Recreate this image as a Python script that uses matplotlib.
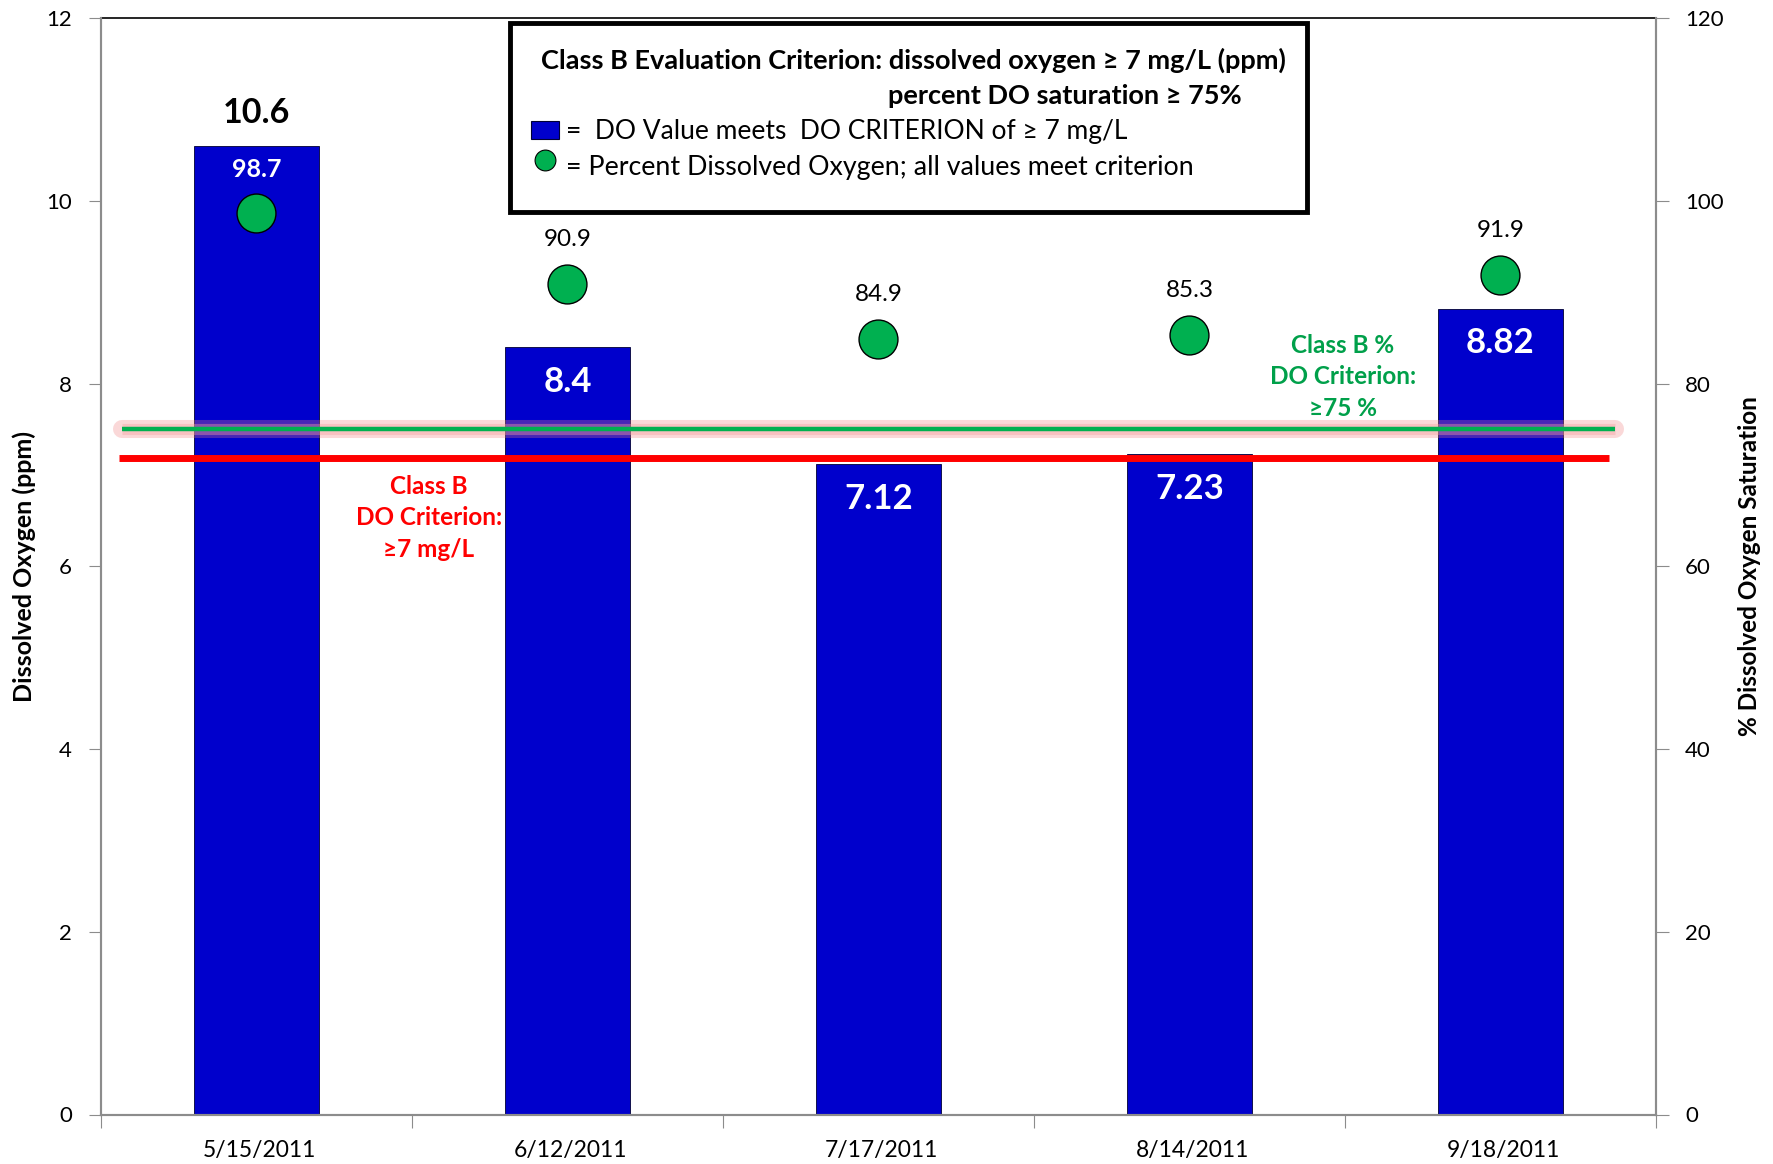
import matplotlib
matplotlib.use("Agg")
import matplotlib.pyplot as plt
from matplotlib.patches import Rectangle
from matplotlib.lines import Line2D

plt.rcParams['font.family'] = ['Lato', 'DejaVu Sans']

dates = ["5/15/2011", "6/12/2011", "7/17/2011", "8/14/2011", "9/18/2011"]
do_values = [10.6, 8.4, 7.12, 7.23, 8.82]
pct_sat = [98.7, 90.9, 84.9, 85.3, 91.9]
do_labels = ["10.6", "8.4", "7.12", "7.23", "8.82"]
pct_labels = ["98.7", "90.9", "84.9", "85.3", "91.9"]
do_criterion_line = 7.18
pct_criterion = 75
left_ticks = [0, 2, 4, 6, 8, 10, 12]
right_ticks = [0, 20, 40, 60, 80, 100, 120]

BAR = "#0000CC"
DOT = "#00B050"
RED = "#FF0000"
GREEN_TXT = "#00A04A"
GRAY = "#8C8C8C"

fig = plt.figure(figsize=(17.74, 11.64), dpi=100)
ax = fig.add_axes([101/1774, 1-1114.5/1164, (1656-101)/1774, (1114.5-18)/1164])
x = list(range(len(dates)))

ax.bar(x, do_values, width=0.4, color=BAR, edgecolor="#000033", linewidth=0.6, zorder=2)
ax.set_xlim(-0.5, 4.5)
ax.set_ylim(0, 12)
ax.set_yticks(left_ticks)
ax.set_yticklabels([str(t) for t in left_ticks], fontsize=16)
ax.set_xticks([i - 0.5 for i in range(len(dates) + 1)])
ax.set_xticklabels([])
ax.set_xticks([i + 0.01 for i in x], minor=True)
ax.set_xticklabels(dates, minor=True, fontsize=16.5)
ax.tick_params(axis='x', which='major', length=9, color=GRAY, direction='out')
ax.tick_params(axis='x', which='minor', length=0, pad=18)
ax.tick_params(axis='y', length=9, color=GRAY, direction='out', pad=12)
for s in ['left', 'bottom', 'right']:
    ax.spines[s].set_color(GRAY)
    ax.spines[s].set_linewidth(1.5)
ax.spines['top'].set_color('black')
ax.spines['top'].set_linewidth(1.2)
ax.set_ylabel("Dissolved Oxygen (ppm)", fontsize=18, fontweight='bold', labelpad=7)

# DO labels
for i, (v, lab) in enumerate(zip(do_values, do_labels)):
    if i == 0:
        ax.annotate(lab, (i, v), xytext=(0, 24), textcoords='offset points',
                    ha='center', va='center', fontsize=24.5, fontweight='bold',
                    color='black', zorder=6)
    else:
        ax.annotate(lab, (i, v), xytext=(0, -25), textcoords='offset points',
                    ha='center', va='center', fontsize=25, fontweight='bold',
                    color='white', zorder=6)

ax2 = ax.twinx()
ax2.set_ylim(0, 120)
ax2.set_yticks(right_ticks)
ax2.set_yticklabels([str(t) for t in right_ticks], fontsize=16)
ax2.tick_params(axis='y', length=9, color=GRAY, direction='out', pad=12)
for s in ['left', 'bottom', 'right']:
    ax2.spines[s].set_color(GRAY)
    ax2.spines[s].set_linewidth(1.5)
ax2.spines['top'].set_visible(False)
ax2.set_ylabel("% Dissolved Oxygen Saturation", fontsize=17.5, fontweight='bold', labelpad=10)

# criterion lines
red_y2 = do_criterion_line * 10
ax2.plot([-0.442, 4.35], [red_y2, red_y2], color=RED, linewidth=5, solid_capstyle='butt', zorder=3)
ax2.plot([-0.431, 4.369], [pct_criterion, pct_criterion], color="#F08080", linewidth=13,
         alpha=0.3, solid_capstyle='round', zorder=3)
ax2.plot([-0.431, 4.369], [pct_criterion, pct_criterion], color="#F4A0A0", linewidth=8,
         alpha=0.4, solid_capstyle='butt', zorder=3)
ax2.plot([-0.431, 4.369], [pct_criterion, pct_criterion], color=DOT, linewidth=3.2,
         solid_capstyle='butt', zorder=3)

ax2.plot(x, pct_sat, linestyle='none', marker='o', markersize=28, markerfacecolor=DOT,
         markeredgecolor='black', markeredgewidth=1.0, zorder=5)
for i, (v, lab) in enumerate(zip(pct_sat, pct_labels)):
    if i == 0:
        ax2.annotate(lab, (i, v), xytext=(0, 31), textcoords='offset points',
                     ha='center', va='center', fontsize=18, fontweight='bold',
                     color='white', zorder=6)
    else:
        ax2.annotate(lab, (i, v), xytext=(0, 32), textcoords='offset points',
                     ha='center', va='center', fontsize=17.5, color='black', zorder=6)

def fx(px): return px*1.1314/1774
def fy(py): return 1 - py*1.1314/1164

# criterion text labels
fig.text(fx(379), fy(457.5), "Class B\nDO Criterion:\n\u22657 mg/L",
         ha='center', va='center', fontsize=17.5, fontweight='bold', color=RED,
         linespacing=1.45)
fig.text(fx(1187), fy(333), "Class B %\nDO Criterion:\n\u226575 %",
         ha='center', va='center', fontsize=17.5, fontweight='bold', color=GREEN_TXT,
         linespacing=1.45)

# legend box
bx0, by0, bx1, by1 = 510, 23, 1307, 212
fig.patches.append(Rectangle((bx0/1774, 1-by1/1164), (bx1-bx0)/1774, (by1-by0)/1164,
                             transform=fig.transFigure, facecolor='white',
                             edgecolor='black', linewidth=3.5, zorder=10))
fig.text(fx(478), fy(53), "Class B Evaluation Criterion: dissolved oxygen \u2265 7 mg/L (ppm)",
         ha='left', va='center', fontsize=19.5, fontweight='bold', zorder=11)
fig.text(fx(1097), fy(85), "percent DO saturation \u2265 75%",
         ha='right', va='center', fontsize=19.5, fontweight='bold', zorder=11)
fig.patches.append(Rectangle((fx(469), fy(123)), fx(494)-fx(469), fy(107)-fy(123),
                             transform=fig.transFigure, facecolor=BAR,
                             edgecolor='#000033', linewidth=0.8, zorder=11))
fig.text(fx(500), fy(116), "=  DO Value meets  DO CRITERION of \u2265 7 mg/L",
         ha='left', va='center', fontsize=19, zorder=11)
fig.lines.append(Line2D([fx(482)], [fy(141)], transform=fig.transFigure, marker='o',
                        markersize=15, markerfacecolor=DOT, markeredgecolor='black',
                        markeredgewidth=0.8, zorder=11))
fig.text(fx(500), fy(148), "= Percent Dissolved Oxygen; all values meet criterion",
         ha='left', va='center', fontsize=19.3, zorder=11)

fig.savefig("out.png", dpi=100)
